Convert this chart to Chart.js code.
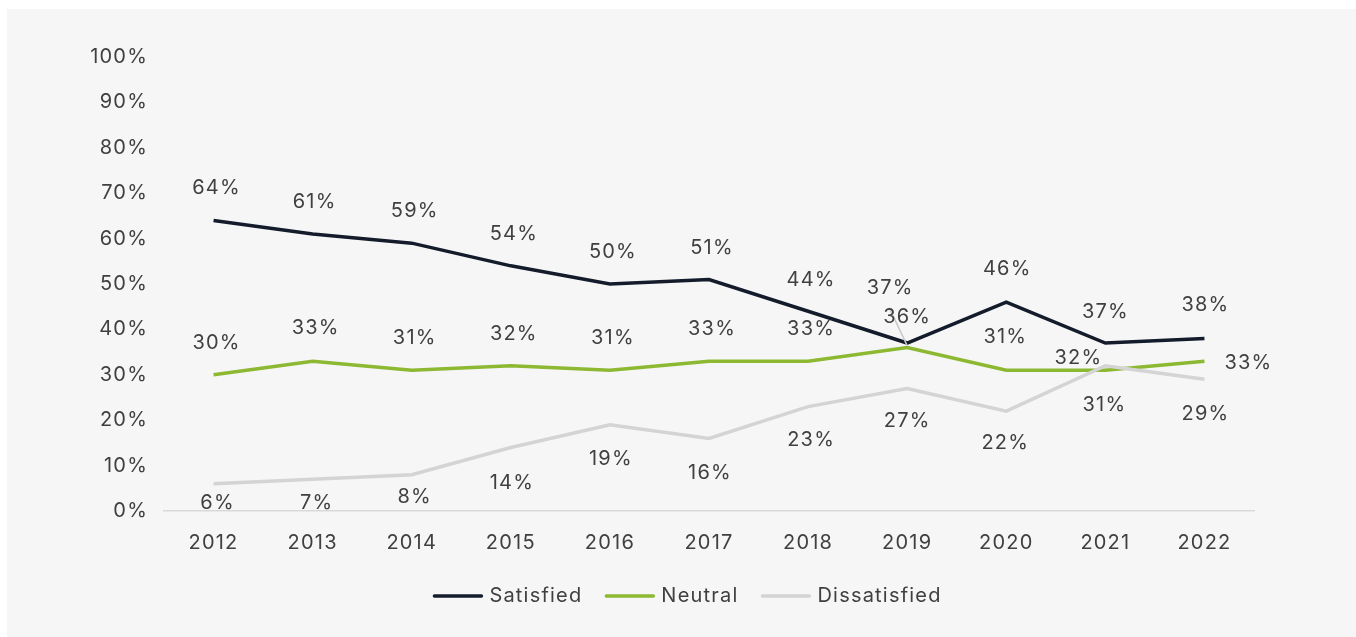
<!DOCTYPE html>
<html>
<head>
  <meta charset="UTF-8">
  <title>Satisfaction 2012-2022</title>
  <script src="https://cdn.jsdelivr.net/npm/chart.js"></script>
  <style>
    body {
      margin: 0;
      background: #ffffff;
      overflow: hidden;
    }
    .panel {
      position: absolute;
      left: 7px;
      top: 9px;
      width: 1349px;
      height: 628px;
      background: #f6f6f6;
    }
  </style>
</head>
<body>
  <div class="panel">
    <canvas id="trend" width="1349" height="628"></canvas>
  </div>

  <script>
    const years = ['2012', '2013', '2014', '2015', '2016', '2017', '2018', '2019', '2020', '2021', '2022'];
    const satisfied    = [64, 61, 59, 54, 50, 51, 44, 37, 46, 37, 38];
    const neutral      = [30, 33, 31, 32, 31, 33, 33, 36, 31, 31, 33];
    const dissatisfied = [6, 7, 8, 14, 19, 16, 23, 27, 22, 32, 29];
    const yTicks = [0, 10, 20, 30, 40, 50, 60, 70, 80, 90, 100];

    // where each value label sits relative to its point [dx, dy]
    const satisfiedLabelPos = [[3,-32],[2,-32],[3,-32],[3,-32],[3,-32],[3,-31],[3,-31],[-17,-55],[1,-33],[0,-31],[1,-33]];
    const neutralLabelPos   = [[3,-32],[3,-33],[3,-32],[3,-32],[3,-32],[3,-32],[3,-32],[0,-31],[-1,-33],[-1,35],[44,2]];
    const dissatLabelPos    = [[4,19],[4,24],[3,22],[1,36],[1,34],[1,35],[3,33],[0,33],[-1,32],[-27,-8],[1,35]];

    const textColor = '#404040';
    const fontFamily = 'Inter, "Liberation Sans", sans-serif';
    const spacing = '1.2px';

    const series = [
      { label: 'Satisfied', data: satisfied, color: '#141c2c', order: 0, pos: satisfiedLabelPos },
      { label: 'Neutral', data: neutral, color: '#8cb832', order: 2, pos: neutralLabelPos },
      { label: 'Dissatisfied', data: dissatisfied, color: '#d4d4d4', order: 1, pos: dissatLabelPos }
    ];

    // slightly wider text everywhere
    const letterSpacing = {
      id: 'letterSpacing',
      beforeDraw(chart) { chart.ctx.letterSpacing = spacing; }
    };

    // value labels, plus the little leader line for Neutral 2019
    const valueLabels = {
      id: 'valueLabels',
      afterDatasetsDraw(chart) {
        const ctx = chart.ctx;
        ctx.save();
        const meta1 = chart.getDatasetMeta(1);
        const p = meta1.data[7];
        const off = neutralLabelPos[7];
        ctx.strokeStyle = '#c8c8c8';
        ctx.lineWidth = 1.5;
        ctx.beginPath();
        ctx.moveTo(p.x + off[0] - 18, p.y + off[1] - 9);
        ctx.lineTo(p.x, p.y - 2);
        ctx.stroke();

        ctx.font = '20px ' + fontFamily;
        ctx.letterSpacing = spacing;
        ctx.fillStyle = textColor;
        ctx.textAlign = 'center';
        ctx.textBaseline = 'middle';
        series.forEach((s, i) => {
          const meta = chart.getDatasetMeta(i);
          meta.data.forEach((pt, j) => {
            const o = s.pos[j];
            ctx.fillText(s.data[j] + '%', pt.x + o[0], pt.y + o[1]);
          });
        });
        ctx.restore();
      }
    };

    // legend: short thick line then the series name
    const lineLegend = {
      id: 'lineLegend',
      afterDraw(chart) {
        const ctx = chart.ctx;
        ctx.save();
        ctx.font = '20px ' + fontFamily;
        ctx.letterSpacing = spacing;
        const lineLen = 51, gap = 6, itemGap = 22;
        let total = 0;
        series.forEach((s, i) => {
          total += lineLen + gap + ctx.measureText(s.label).width;
          if (i < series.length - 1) total += itemGap;
        });
        let x = 680 - total / 2;
        const y = 587;
        series.forEach(s => {
          ctx.strokeStyle = s.color;
          ctx.lineWidth = 3.5;
          ctx.lineCap = 'round';
          ctx.beginPath();
          ctx.moveTo(x + 2, y);
          ctx.lineTo(x + lineLen - 2, y);
          ctx.stroke();
          x += lineLen + gap;
          ctx.fillStyle = textColor;
          ctx.textAlign = 'left';
          ctx.textBaseline = 'middle';
          ctx.fillText(s.label, x, y);
          x += ctx.measureText(s.label).width + itemGap;
        });
        ctx.restore();
      }
    };

    new Chart(document.getElementById('trend'), {
      type: 'line',
      data: {
        labels: years,
        datasets: series.map(s => ({
          label: s.label,
          data: s.data,
          borderColor: s.color,
          backgroundColor: s.color,
          borderWidth: 3.5,
          pointRadius: 0,
          tension: 0,
          fill: false,
          order: s.order
        }))
      },
      options: {
        responsive: false,
        animation: false,
        layout: { padding: { left: 0, top: 48, right: 102, bottom: 66 } },
        plugins: {
          legend: { display: false },
          tooltip: { enabled: false }
        },
        scales: {
          x: {
            offset: true,
            grid: { display: false, drawTicks: false },
            border: { display: true, color: '#d9d9d9', width: 1.5 },
            ticks: {
              padding: 20,
              color: textColor,
              font: { family: fontFamily, size: 20 },
              maxRotation: 0
            },
            afterFit(scale) { scale.height = 60; }
          },
          y: {
            min: 0,
            max: 100,
            afterBuildTicks(scale) { scale.ticks = yTicks.map(v => ({ value: v })); },
            grid: { display: false, drawTicks: false },
            border: { display: false },
            ticks: {
              padding: 16,
              color: textColor,
              font: { family: fontFamily, size: 20 },
              callback: v => v + '%'
            },
            afterFit(scale) { scale.width = 157; }
          }
        }
      },
      plugins: [letterSpacing, valueLabels, lineLegend]
    });
  </script>
</body>
</html>
